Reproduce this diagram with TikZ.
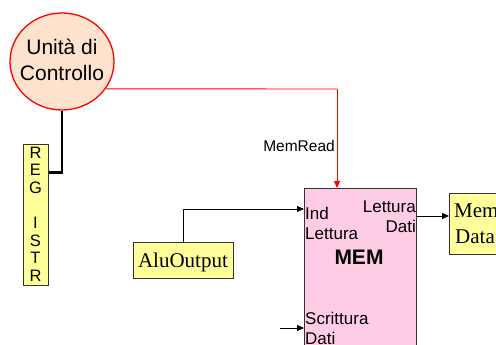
\documentclass[tikz,border=0pt]{standalone}
\usepackage{fontspec}
\setmainfont{Liberation Sans}
\newfontfamily\timesf{Liberation Serif}
\usetikzlibrary{arrows.meta,shapes.geometric,calc}
\definecolor{peach}{RGB}{253,226,206}
\definecolor{mempink}{RGB}{255,204,230}
\definecolor{lyellow}{RGB}{255,255,153}
\begin{document}
\begin{tikzpicture}[x=1pt,y=-1pt,
  box/.style={draw=black!80, line width=0.8pt, inner sep=0pt, anchor=north west},
  lbl/.style={inner sep=0pt, anchor=base west, font=\fontsize{17}{20}\selectfont},
  tlbl/.style={inner sep=0pt, anchor=base west, font=\timesf\fontsize{21}{24}\selectfont},
  arr/.style={-{Triangle[length=7pt,width=6pt]}, line width=0.8pt}]
\useasboundingbox (0,0) rectangle (496,345);
\clip (0,0) rectangle (496,345);
% control unit
\node[ellipse, draw=red, line width=1.3pt, fill=peach, minimum width=104pt, minimum height=97pt, inner sep=0pt] (cu) at (62,61.5) {};
\node[inner sep=0pt, anchor=base, font=\fontsize{21}{26}\selectfont] (cu1) at (62,55) {Unità di};
\node[inner sep=0pt, anchor=base, font=\fontsize{21}{26}\selectfont] (cu2) at (62,81) {Controllo};
% REG ISTR
\node[box, fill=lyellow, minimum width=25pt, minimum height=141pt] (reg) at (23,144) {};
\node[inner sep=0pt, align=center, font=\fontsize{16.5}{17.6}\selectfont] (regtxt) at (35.5,214) {R\\E\\G\\\mbox{}\\I\\S\\T\\R};
% AluOutput
\node[box, fill=lyellow, minimum width=100pt, minimum height=36pt] (alu) at (133,242) {};
\node[tlbl, anchor=base] (alutxt) at (183,267) {AluOutput};
% MEM
\node[box, fill=mempink, minimum width=112pt, minimum height=200pt] (mem) at (304,188) {};
\node[lbl] (ind) at (305,219) {Ind};
\node[lbl] (indl) at (305,239) {Lettura};
\node[lbl, anchor=base east] (lett) at (416,212) {Lettura};
\node[lbl, anchor=base east] (dati) at (416,232) {Dati};
\node[inner sep=0pt, anchor=base, font=\bfseries\fontsize{21}{24}\selectfont] (memtxt) at (359,264) {MEM};
\node[lbl] (scr) at (305,324) {Scrittura};
\node[lbl] (scrd) at (305,344) {Dati};
% Mem Data
\node[box, fill=lyellow, minimum width=60pt, minimum height=61pt] (md) at (449,193) {};
\node[tlbl] (md1) at (454,217) {Mem};
\node[tlbl] (md2) at (455,243) {Data};
% MemRead
\node[inner sep=0pt, anchor=base, font=\fontsize{15.5}{18}\selectfont] (mr) at (299,151) {MemRead};
% connectors
\coordinate (rc) at (337,89);
\draw[red, line width=0.9pt] (cu.-32.7) -- (rc);
\draw[red, line width=0.9pt, -{Triangle[length=7pt,width=6pt]}] (rc) -- (mem.north -| rc);
\draw[line width=2.2pt] (cu.south) |- ([yshift=42.5pt]reg.east);
\draw[arr] (alu.north) |- ([yshift=-21pt]mem.north west);
\coordinate (mo) at ([yshift=-28pt]mem.north east);
\draw[arr] (mo) -- (mo -| md.west);
\coordinate (sd) at (280,328);
\draw[arr] (sd) -- (sd -| mem.west);
\end{tikzpicture}
\end{document}
